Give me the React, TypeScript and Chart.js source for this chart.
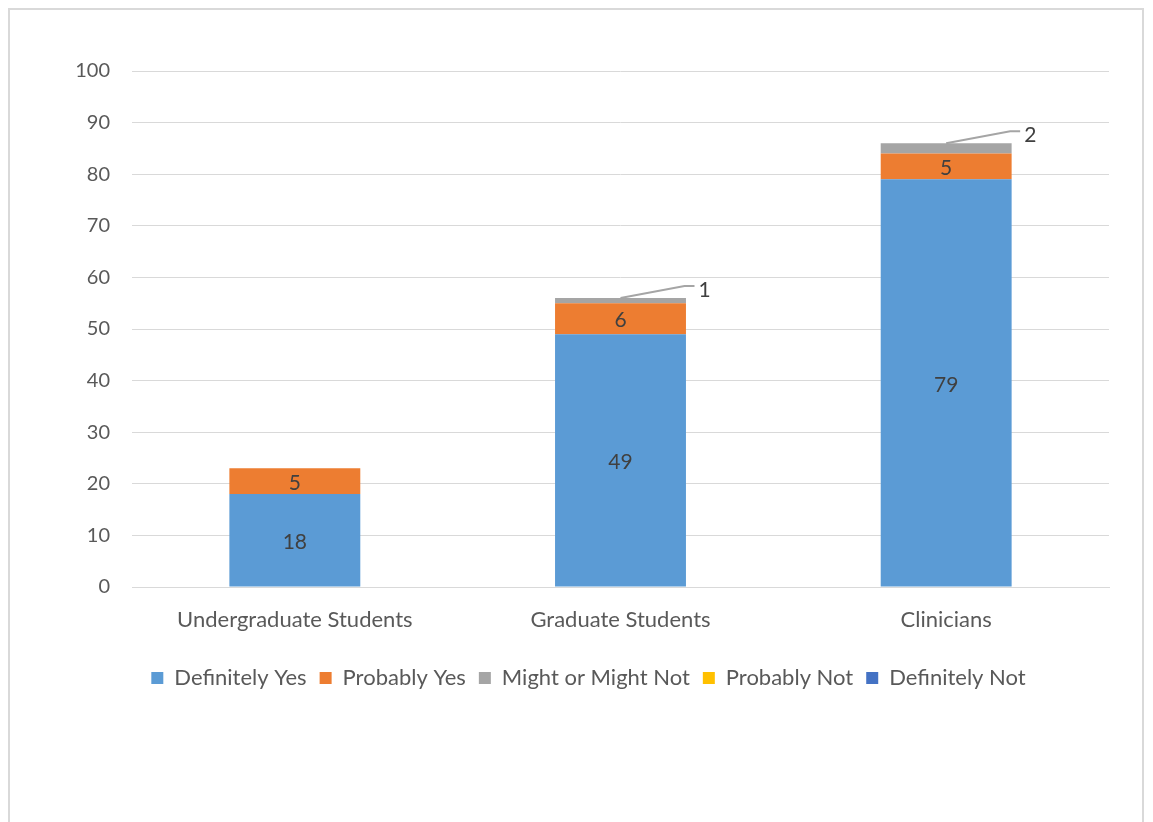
import React, { useEffect, useRef } from "react";
import { Chart, registerables } from "chart.js";

Chart.register(...registerables);

const categories = ["Undergraduate Students", "Graduate Students", "Clinicians"];
const definitelyYes = [18, 49, 79];
const probablyYes = [5, 6, 5];
const mightOrMightNot = [0, 1, 2];
const probablyNot = [0, 0, 0];
const definitelyNot = [0, 0, 0];
const seriesNames = ["Definitely Yes", "Probably Yes", "Might or Might Not", "Probably Not", "Definitely Not"];
const seriesColors = ["#5B9BD5", "#ED7D31", "#A5A5A5", "#FFC000", "#4472C4"];

const FONT = "Lato, 'Open Sans', sans-serif";

const labelPlugin = {
  id: "segmentLabels",
  afterDatasetsDraw(chart: any) {
    const ctx = chart.ctx;
    ctx.save();
    ctx.font = `21px ${FONT}`;
    ctx.fillStyle = "#404040";
    chart.data.datasets.forEach((ds: any, di: number) => {
      const meta = chart.getDatasetMeta(di);
      meta.data.forEach((el: any, i: number) => {
        const v = ds.data[i];
        if (!v) return;
        const { x, y, base } = el.getProps(["x", "y", "base"], true);
        const h = Math.abs(base - y);
        if (h >= 20) {
          ctx.textAlign = "center";
          ctx.textBaseline = "middle";
          ctx.fillText(String(v), x, (y + base) / 2 + 2);
        } else {
          ctx.strokeStyle = "#A5A5A5";
          ctx.lineWidth = 2;
          ctx.beginPath();
          ctx.moveTo(x, y);
          ctx.lineTo(x + 64, y - 12);
          ctx.lineTo(x + 74, y - 12);
          ctx.stroke();
          ctx.textAlign = "left";
          ctx.textBaseline = "middle";
          ctx.fillText(String(v), x + 78, y - 8);
        }
      });
    });
    ctx.restore();
  },
};

export default function App() {
  const ref = useRef<HTMLCanvasElement>(null);
  useEffect(() => {
    if (!ref.current) return;
    const values = [definitelyYes, probablyYes, mightOrMightNot, probablyNot, definitelyNot];
    const chart = new Chart(ref.current, {
      type: "bar",
      data: {
        labels: categories,
        datasets: values.map((d, i) => ({
          label: seriesNames[i],
          data: d,
          backgroundColor: seriesColors[i],
          borderWidth: 0,
          barPercentage: 0.402,
          categoryPercentage: 1,
        })),
      },
      options: {
        responsive: false,
        animation: false,
        layout: { padding: { left: 58, right: 33, top: 61, bottom: 141 } },
        plugins: {
          tooltip: { enabled: false },
          legend: {
            position: "bottom",
            labels: {
              boxWidth: 12,
              boxHeight: 12,
              padding: 13,
              color: "#595959",
              font: { family: FONT, size: 22 },
            },
          },
        },
        scales: {
          x: {
            stacked: true,
            grid: { display: false },
            border: { display: true, color: "#D9D9D9", width: 1 },
            ticks: { color: "#595959", font: { family: FONT, size: 22 }, padding: 12, maxRotation: 0 },
            afterFit: (s: any) => { s.height = 67; },
          },
          y: {
            stacked: true,
            min: 0,
            max: 100,
            grid: { color: "#D9D9D9", drawTicks: false, lineWidth: 1 },
            border: { display: false },
            ticks: { stepSize: 10, color: "#595959", font: { family: FONT, size: 20 }, padding: 22 },
            afterFit: (s: any) => { s.width = 64; },
          },
        },
      },
      plugins: [labelPlugin],
    });
    return () => chart.destroy();
  }, []);
  return (
    <div style={{ width: 1132, height: 830, border: "2px solid #D9D9D9", background: "#fff" }}>
      <canvas ref={ref} width={1132} height={830} style={{ display: "block", width: 1132, height: 830 }} />
    </div>
  );
}
